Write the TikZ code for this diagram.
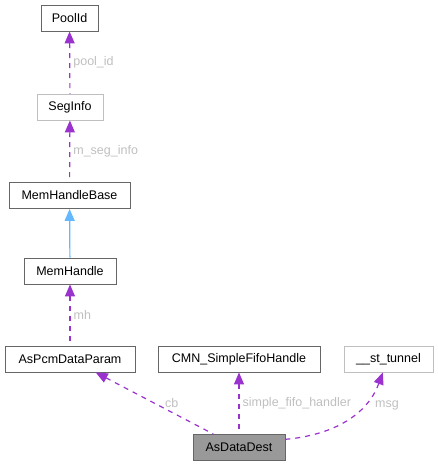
\documentclass[tikz,border=0pt]{standalone}
\usepackage{fontspec}
\setmainfont{Liberation Sans}
\usetikzlibrary{arrows.meta}
\definecolor{edgepurple}{HTML}{9A32CD}
\definecolor{edgeblue}{HTML}{63B8FF}
\definecolor{labelgray}{HTML}{BFBFBF}
\tikzset{
  cls/.style={draw=black!60, line width=0.9pt, minimum height=26pt, inner sep=0pt, font=\fontsize{12.5}{15}\selectfont},
  faint/.style={cls, draw=black!25},
  focus/.style={cls, fill=black!40},
  uses/.style={edgepurple, line width=1.2pt, dash pattern=on 5pt off 5pt, {Triangle[width=10pt,length=12pt]}-},
  inherits/.style={edgeblue, line width=1.2pt, {Triangle[width=10pt,length=12pt]}-},
  lbl/.style={labelgray, font=\fontsize{12.5}{15}\selectfont, inner sep=3pt}
}
\begin{document}
\begin{tikzpicture}[x=1pt,y=1pt]
  \useasboundingbox (0,0) rectangle (438,466);
  \node[cls, minimum width=57pt] (pool) at (69.5,448) {PoolId};
  \node[faint, minimum width=66pt] (seg) at (70,359) {SegInfo};
  \node[cls, minimum width=121pt] (mhb) at (69.5,270.5) {MemHandleBase};
  \node[cls, minimum width=92pt] (mh) at (70,195) {MemHandle};
  \node[cls, minimum width=130pt] (param) at (70,107) {AsPcmDataParam};
  \node[cls, minimum width=162pt] (fifo) at (239,107) {CMN\_SimpleFifoHandle};
  \node[faint, minimum width=89pt] (tunnel) at (388.5,107) {\_\_st\_tunnel};
  \node[focus, minimum width=92pt] (dest) at (239,18.5) {AsDataDest};
  \draw[uses] (pool) -- node[lbl, right] {pool\_id} (seg);
  \draw[uses] (seg) -- node[lbl, right] {m\_seg\_info} (mhb);
  \draw[inherits] (mhb) -- (mh);
  \draw[uses] (mh) -- node[lbl, right] {mh} (param);
  \draw[uses] (param) -- node[lbl, right, xshift=7pt] {cb} (dest);
  \draw[uses] (fifo) -- node[lbl, right] {simple\_fifo\_handler} (dest);
  \draw[uses] (tunnel.-113) to[out=-110, in=5]
    node[lbl, pos=0.3, right, xshift=8pt] {msg} (dest.10);
\end{tikzpicture}
\end{document}
